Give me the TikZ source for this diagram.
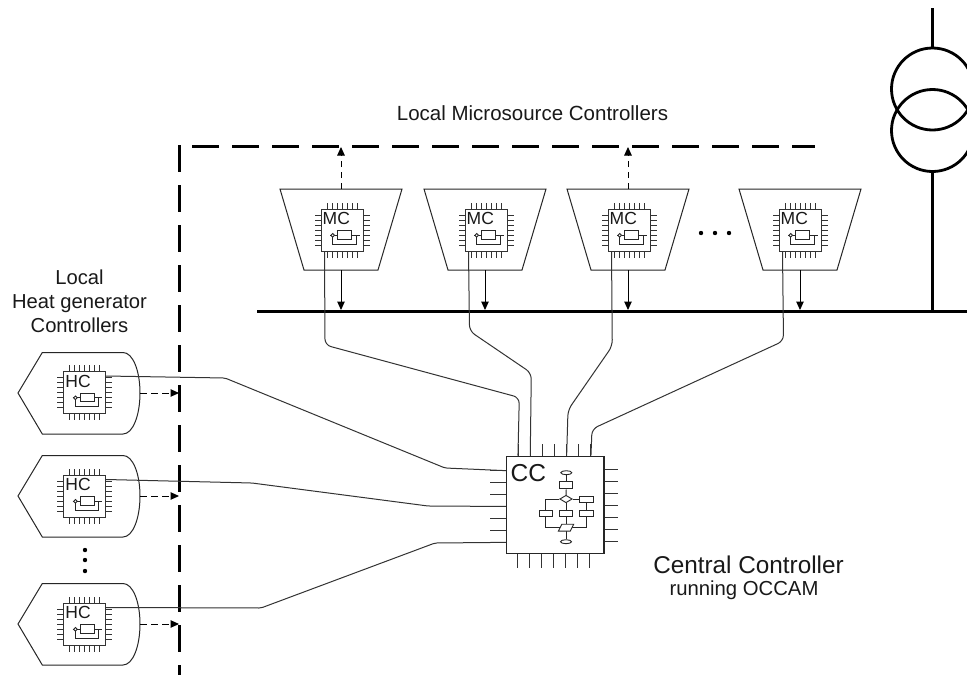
\documentclass[tikz,border=0pt]{standalone}
\usepackage{fontspec}
\setmainfont{Liberation Sans}
\usetikzlibrary{arrows.meta,calc,shapes.geometric}
\tikzset{
  x=1pt,y=-1pt,
  thin line/.style={line width=1pt,draw=black!85},
  wire/.style={line width=1pt,draw=black!80,rounded corners=6pt},
  chipbox/.style={draw=black!80,line width=1pt,minimum size=42pt,inner sep=0pt,fill=white},
  pin/.style={line width=.8pt,draw=black!80},
  thick dash/.style={line width=3pt,draw=black,dash pattern=on 27pt off 13pt},
  heavy/.style={line width=3pt,draw=black},
  solid arrow/.style={line width=1pt,-{Triangle[length=8.5pt,width=7.5pt]}},
  dash arrow/.style={line width=1pt,dash pattern=on 6.5pt off 4.5pt,-{Triangle[length=8.5pt,width=7.5pt]}},
  flow/.style={draw=black!85,line width=.9pt,inner sep=0pt,fill=white},
  lbl/.style={inner sep=0pt,align=center,text=black!90},
}
\newcommand{\chipsym}[4]{% name, x, y, label
  \node[chipbox] (#1) at (#2,#3) {};
  \foreach \k in {-15,-10,-5,0,5,10,15}{
    \draw[pin] ($(#1.north)+(\k,0)$) -- ++(0,-6);
    \draw[pin] ($(#1.south)+(\k,0)$) -- ++(0,6);
    \draw[pin] ($(#1.west)+(0,\k)$) -- ++(-6,0);
    \draw[pin] ($(#1.east)+(0,\k)$) -- ++(6,0);
  }
  \node[lbl,font=\fontsize{17.5}{18}\selectfont,anchor=base west] (#1t) at ($(#1.north west)+(2,16)$) {#4};
  \begin{scope}[shift={(#1.center)},line width=.9pt]
    \draw[black!85] (-12,5.3) -- (-11,5.3) (-7.5,5.3) -- (-4.3,5.3) (9.3,5.3) -- (17.7,5.3);
    \draw[black!85] (-9.3,5.3) circle (1.8);
    \draw[black!85] (-4.3,0.7) rectangle (9.3,9.3);
    \draw[black!85] (14,5.3) -- (14,14.3) -- (-9.3,14.3) -- (-9.3,7.1);
  \end{scope}
}
\begin{document}
\begin{tikzpicture}
\useasboundingbox (0,0) rectangle (967,675);
\fill[white] (0,0) rectangle (967,675);

% transformer
\coordinate (tfup) at (932.5,8);
\node[circle,draw,line width=2.8pt,minimum size=82pt,inner sep=0pt] (tfa) at (932.5,89) {};
\node[circle,draw,line width=2.8pt,minimum size=82pt,inner sep=0pt] (tfb) at (932.5,130.5) {};
\draw[heavy] (tfup) -- (tfa.north);

% bus
\coordinate (busw) at (257,311);
\coordinate (buse) at (967,311);
\draw[heavy] (busw) -- (buse);
\coordinate (busj) at (932.5,311);
\draw[heavy] (tfb.south) -- (busj);

% boundaries
\coordinate (va) at (179.5,145);
\coordinate (vb) at (179.5,675);
\coordinate (ha) at (192,146.5);
\coordinate (hb) at (815,146.5);
\draw[thick dash] (va) -- (vb);
\draw[thick dash] (ha) -- (hb);

% Microsource trapezoids
\foreach \n/\c in {1/341,2/485,3/628,4/800}{
  \draw[thin line] (\c-61,189) coordinate (tl\n) -- (\c+61,189) -- (\c+37,270) -- (\c-37,270) -- cycle;
  \coordinate (tt\n) at (\c,189);
  \coordinate (tb\n) at (\c,270);
  \coordinate (bus\n) at (\c,310);
  \coordinate (dash\n) at (\c,147);
  \draw[solid arrow] (tb\n) -- (bus\n);
}
\draw[dash arrow] (tt1) -- (dash1);
\draw[dash arrow] (tt3) -- (dash3);

\chipsym{mca}{342}{230}{MC}
\chipsym{mcb}{486}{230}{MC}
\chipsym{mcc}{629}{230}{MC}
\chipsym{mcd}{800}{230}{MC}

% Heat generator outlines
\foreach \n/\c in {1/393,2/496,3/624}{
  \draw[thin line] (18,\c) -- (42.3,\c-40.5) -- (123,\c-40.5) .. controls (133,\c-40.5) and (140,\c-22) .. (140,\c) .. controls (140,\c+22) and (133,\c+41) .. (123,\c+41) -- (42.3,\c+41) -- cycle;
  \coordinate (hs\n) at (140,\c);
  \coordinate (hd\n) at (179,\c);
  \draw[dash arrow] (hs\n) -- (hd\n);
}
\chipsym{hca}{84.7}{392.5}{HC}
\chipsym{hcb}{84.7}{496}{HC}
\chipsym{hcc}{84.7}{624}{HC}

% Central controller
\node[draw=black!85,line width=1.2pt,minimum size=97.5pt,inner sep=0pt,fill=white] (cc) at (555.3,505) {};
\foreach \k in {0,...,6}{
  \draw[pin] ($(cc.north west)+(12+12.15*\k,0)$) -- ++(0,-12);
  \draw[pin] ($(cc.south west)+(11+12.15*\k,0)$) -- ++(0,14);
  \draw[pin] ($(cc.north west)+(0,15+11.95*\k)$) -- ++(-16,0);
  \draw[pin] ($(cc.north east)+(0,14+11.95*\k)$) -- ++(13,0);
}
\node[lbl,font=\fontsize{24.5}{26}\selectfont,anchor=base west] (cct) at (510.5,481) {CC};

% flowchart inside CC
\node[flow,ellipse,minimum width=11pt,minimum height=4pt] (f1) at (566.3,472.7) {};
\node[flow,minimum width=13pt,minimum height=7pt] (f2) at (566.3,485.3) {};
\node[flow,diamond,minimum width=12.5pt,minimum height=7.5pt] (f3) at (566,499) {};
\node[flow,minimum width=13.3pt,minimum height=6pt] (f4) at (586.3,499) {};
\node[flow,minimum width=13.3pt,minimum height=6pt] (f5) at (545.7,513.3) {};
\node[flow,minimum width=13.3pt,minimum height=6pt] (f6) at (566,513.3) {};
\node[flow,minimum width=13.3pt,minimum height=6pt] (f7) at (586.3,513.3) {};
\node[inner sep=0pt,minimum width=12pt,minimum height=6.5pt] (f8) at (566,527.7) {};
\node[flow,ellipse,minimum width=11pt,minimum height=4pt] (f9) at (566,541.7) {};
\begin{scope}[line width=.9pt]
  \draw[black!85] (f1) -- (f2);
  \draw[black!85] (f2) -- (f3);
  \draw[black!85] (f3) -- (f4);
  \draw[black!85] (f3) -- (f6);
  \draw[black!85] (f6) -- (f8);
  \draw[black!85] (f8) -- (f9);
  \draw[black!85] (f4) -- (f7);
  \draw[black!85] (f3.west) -| (f5.north);
  \draw[black!85] (f5.south) |- (f8.west);
  \draw[black!85] (f7.south) |- (f8.east);
  \draw[black!85,fill=white] ($(f8.south west)+(-1.5,0)$) -- ($(f8.north west)+(2,0)$) -- ($(f8.north east)+(1.5,0)$) -- ($(f8.south east)+(-2,0)$) -- cycle;
\end{scope}

% wires MC to CC
\draw[wire] ([xshift=4pt]mca.south west) -- (325,345) -- (519.3,397.5) -- ([xshift=12pt]cc.north west);
\draw[wire] ([xshift=4pt]mcb.south west) -- (469.5,331) -- (531.3,373) -- ([xshift=24.3pt]cc.north west);
\draw[wire] ([xshift=4pt]mcc.south west) -- (612.3,346) -- (568,410) -- ([xshift=60.7pt]cc.north west);
\draw[wire] ([xshift=4pt]mcd.south west) -- (783.5,341) -- (592,429) -- ([xshift=85pt]cc.north west);
% wires HC to CC
\draw[wire,rounded corners=2pt] ([yshift=-5pt]hca.north east) -- (225,378) -- (445,468) -- ([yshift=-15pt]cc.north west);
\draw[wire,rounded corners=2pt] ([yshift=-5pt]hcb.north east) -- (252,483) -- (428,506) -- ([yshift=-50.8pt]cc.north west);
\draw[wire,rounded corners=2pt] ([yshift=-5pt]hcc.north east) -- (261,608) -- (435,543) -- ([yshift=-86.7pt]cc.north west);

% dots
\foreach \x in {701,715,729}{ \fill (\x,233) circle (2.2); }
\foreach \y in {550,560,571}{ \fill (85,\y) circle (2.2); }

% labels
\node[lbl,font=\fontsize{20.5}{20.5}\selectfont,anchor=base] (ttop) at (532.5,120) {Local Microsource Controllers};
\node[lbl,font=\fontsize{20.2}{24.3}\selectfont,anchor=base] (tleft) at (79.5,332.7) {Local\\Heat generator\\Controllers};
\node[lbl,font=\fontsize{24.3}{24.3}\selectfont,anchor=base] (tcc) at (748.5,573) {Central Controller};
\node[lbl,font=\fontsize{20.3}{20.3}\selectfont,anchor=base] (tocc) at (744,595.7) {running OCCAM};
\end{tikzpicture}
\end{document}
